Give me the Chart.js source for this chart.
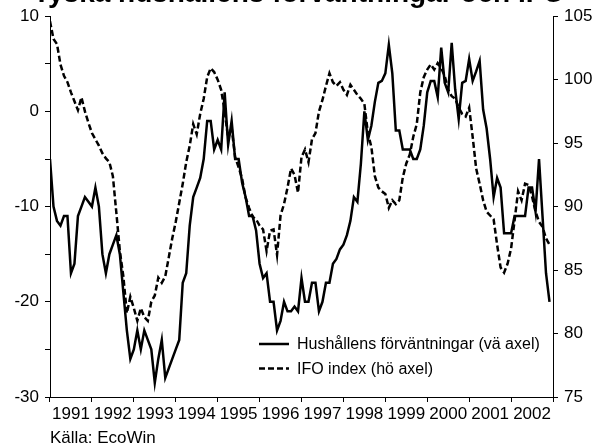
<!DOCTYPE html>
<html>
<head>
<meta charset="utf-8">
<script src="https://cdn.jsdelivr.net/npm/chart.js@4.4.1/dist/chart.umd.min.js"></script>
<style>
html,body{margin:0;padding:0;background:#fff;}
#wrap{width:605px;height:446px;position:relative;}
</style>
</head>
<body>
<div id="wrap"><canvas id="c" width="605" height="446"></canvas></div>
<script>
// Year labels on the x axis (one band per year, monthly data starts Jan 1991)
const years = ['1991','1992','1993','1994','1995','1996','1997','1998','1999','2000','2001','2002'];

// Hushållens förväntningar (left axis), monthly Jan 1991 .. Dec 2002
const hushall = [
  -5, -10, -11.5, -12, -11, -11, -17, -16, -11, -10, -9, -9.5,
  -10, -8, -10, -15, -17, -15, -14, -13, -15, -19, -23, -26,
  -25, -23, -25, -23, -24, -25, -28.5, -26, -24, -28, -27, -26,
  -25, -24, -18, -17, -12, -9, -8, -7, -5, -1, -1, -4,
  -3, -4, 2, -3.5, -1, -5, -5, -7.5, -9, -11, -11, -12.5,
  -16, -17.5, -17, -20, -20, -23, -22, -20, -21, -21, -20.5, -21,
  -17.5, -20, -20, -18, -18, -21, -20, -18, -18, -16, -15.5, -14.5,
  -14, -13, -11.5, -9, -9.5, -5.5, 0, -3, -1.5, 1, 3, 3.2,
  4, 7, 4, -2, -2, -4, -4, -4, -5, -5, -4, -1.5,
  2, 3.2, 3.2, 1.5, 6.7, 3, 2, 7.2, 2.3, -0.8, 3, 3.2,
  5.5, 3.2, 4.2, 5.3, 0.2, -1.8, -5, -9, -7, -8, -12.8, -12.8,
  -12.8, -11, -11, -11, -11, -8, -8, -10.5, -5, -11, -17, -20
];

// IFO index (right axis), monthly Jan 1991 .. Dec 2002
const ifo = [
  104.6, 103.2, 102.8, 101.2, 100.3, 99.8, 99, 98.3, 97.6, 98.6, 97.5, 96.6,
  95.8, 95.3, 94.8, 94.2, 93.8, 93.5, 92.4, 89.5, 86.5, 84.5, 81.6, 82.9,
  82, 81, 82, 81.3, 81, 82.5, 83, 84.4, 84, 84.5, 86, 87.5,
  88.8, 90.3, 91.8, 93.5, 94.8, 96.5, 95.7, 97.3, 98.5, 100.2, 100.9, 100.6,
  100, 99.2, 97.5, 95.4, 96.2, 93.9, 93.1, 92.2, 90.7, 89.9, 89.2, 89,
  88.5, 88.2, 86.5, 88.1, 88.2, 86.2, 89.3, 90.2, 91.5, 93, 92.5, 91.1,
  93.9, 94.5, 93.5, 95.3, 95.8, 97.5, 98.4, 99.5, 100.5, 99.8, 99.5, 99.8,
  99.2, 98.8, 99.6, 99.2, 98.8, 98.5, 98.1, 95.8, 94.7, 92.4, 91.5, 91.2,
  91, 89.9, 90.5, 90.2, 90.5, 92.3, 93.4, 94.1, 95.5, 96.5, 99, 100.2,
  100.8, 101.2, 100.8, 101.3, 100.9, 100.3, 99.2, 98.7, 98.5, 97.8, 97.3, 97.1,
  97.8, 95.5, 93, 91.8, 90.5, 89.6, 89.3, 89, 87, 85.2, 84.8, 85.5,
  86.7, 88.9, 91.2, 90.5, 91.8, 91.7, 90.8, 89.6, 88.8, 88.4, 87.5, 87
];

const titleText = 'Tyska hushållens förväntningar och IFO';
const sourceText = 'Källa: EcoWin';
const legendLabels = ['Hushållens förväntningar (vä axel)', 'IFO index (hö axel)'];

const FONT = '"Liberation Sans", Arial, sans-serif';

const extras = {
  id: 'extras',
  afterDraw(chart) {
    const ctx = chart.ctx;
    ctx.save();
    ctx.fillStyle = '#000';
    // title, cropped by the top edge as in the original
    ctx.font = 'bold 28px ' + FONT;
    ctx.textBaseline = 'alphabetic';
    ctx.textAlign = 'left';
    ctx.fillText(titleText, 33, 1.5, 532);
    // source
    ctx.font = '17px ' + FONT;
    ctx.fillText(sourceText, 50, 443, 107);
    // legend
    const items = [
      {y: 344, dash: [], w: 250},
      {y: 368.5, dash: [6, 3], w: 146}
    ];
    items.forEach((it, i) => {
      ctx.strokeStyle = '#000';
      ctx.lineWidth = 2.5;
      ctx.setLineDash(it.dash);
      ctx.beginPath();
      ctx.moveTo(259, it.y);
      ctx.lineTo(289, it.y);
      ctx.stroke();
      ctx.setLineDash([]);
      ctx.font = '16px ' + FONT;
      ctx.textBaseline = 'middle';
      ctx.fillText(legendLabels[i], 297, it.y + 1, it.w);
    });
    ctx.restore();
  }
};

const toPts = arr => arr.map((v, i) => ({x: i, y: v}));

new Chart(document.getElementById('c'), {
  type: 'line',
  data: {
    datasets: [
      {
        label: legendLabels[0],
        data: toPts(hushall),
        xAxisID: 'xd', yAxisID: 'y',
        borderColor: '#000', borderWidth: 2.5,
        pointRadius: 0, tension: 0, fill: false
      },
      {
        label: legendLabels[1],
        data: toPts(ifo),
        xAxisID: 'xd', yAxisID: 'y1',
        borderColor: '#000', borderWidth: 2.5, borderDash: [6, 3],
        pointRadius: 0, tension: 0, fill: false
      }
    ]
  },
  options: {
    responsive: false,
    animation: false,
    layout: {padding: {top: 15, left: 0, right: 0, bottom: 0}},
    plugins: {legend: {display: false}, tooltip: {enabled: false}, title: {display: false}},
    scales: {
      xd: {
        type: 'linear', axis: 'x', display: false, min: 0, max: 144
      },
      x: {
        type: 'category', position: 'bottom', labels: years,
        offset: true,
        grid: {offset: true, drawOnChartArea: false, drawTicks: true, tickLength: 5, color: '#000', lineWidth: 1},
        border: {display: true, color: '#000', width: 1},
        ticks: {color: '#000', font: {family: FONT, size: 17}, padding: 2, maxRotation: 0, autoSkip: false},
        afterFit: s => { s.height = 49; }
      },
      y: {
        type: 'linear', position: 'left', min: -30, max: 10,
        grid: {drawOnChartArea: false, drawTicks: true, tickLength: 5, color: '#000'},
        border: {display: true, color: '#000', width: 1},
        ticks: {stepSize: 5, color: '#000', font: {family: FONT, size: 17}, padding: 6,
          callback: v => (v % 10 === 0 ? String(v) : '')},
        afterFit: s => { s.width = 50; }
      },
      y1: {
        type: 'linear', position: 'right', min: 75, max: 105,
        grid: {drawOnChartArea: false, drawTicks: true, tickLength: 5, color: '#000'},
        border: {display: true, color: '#000', width: 1},
        ticks: {stepSize: 5, color: '#000', font: {family: FONT, size: 17}, padding: 6},
        afterFit: s => { s.width = 52; }
      }
    }
  },
  plugins: [extras]
});
</script>
</body>
</html>
